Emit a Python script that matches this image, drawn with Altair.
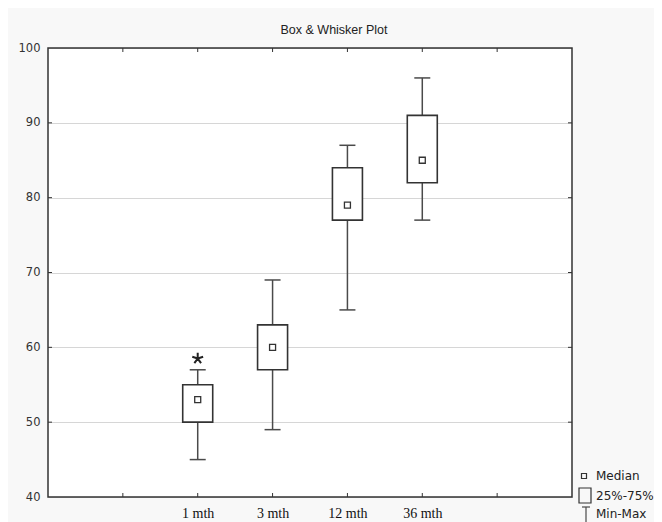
import altair as alt
import pandas as pd

# ---- data ----
categories = ["1 mth", "3 mth", "12 mth", "36 mth"]
positions = [2, 3, 4, 5]          # category slots on a 0..7 axis
mins = [45, 49, 65, 77]
q1s = [50, 57, 77, 82]
medians = [53, 60, 79, 85]
q3s = [55, 63, 84, 91]
maxs = [57, 69, 87, 96]
outlier_pos = [2]
outlier_vals = [58.5]
x_tick_vals = [1, 2, 3, 4, 5, 6]
y_tick_vals = [40, 50, 60, 70, 80, 90, 100]
y_inner_ticks = [50, 60, 70, 80, 90]
legend_labels = ["Median", "25%-75%", "Min-Max"]
title_text = "Box & Whisker Plot"

W, H = 524, 449
DARK = "#333333"
WHISK = "#4a4a4a"

df = pd.DataFrame({"cat": categories, "pos": positions, "min": mins, "q1": q1s,
                   "med": medians, "q3": q3s, "max": maxs})
out_df = pd.DataFrame({"pos": outlier_pos, "v": outlier_vals})
xt_df = pd.DataFrame({"pos": x_tick_vals})
yt_df = pd.DataFrame({"v": y_inner_ticks})
one = pd.DataFrame({"a": [0]})

xs = alt.Scale(domain=[0, 7], nice=False, zero=False)
ys = alt.Scale(domain=[40, 100], nice=False, zero=False)

label_expr = " : ".join(f"datum.value == {p} ? '{c}'" for p, c in zip(positions, categories)) + " : ''"

x_axis = alt.Axis(values=positions, labelExpr=label_expr, ticks=False, domain=False, grid=False,
                  title=None, labelFont="Liberation Serif", labelFontSize=14, labelColor="#111111",
                  labelPadding=9)
y_axis = alt.Axis(values=y_tick_vals, ticks=False, domain=False, grid=True, gridColor="#d6d6d6",
                  gridWidth=1, title=None, labelFont="DejaVu Sans", labelFontSize=11.5,
                  labelColor="#333333", labelPadding=8)

X = alt.X("pos:Q", scale=xs, axis=x_axis)

whisk = alt.Chart(df).mark_rule(color=WHISK, strokeWidth=1.5).encode(
    x=X, y=alt.Y("min:Q", scale=ys, axis=y_axis), y2="max:Q")
cap_lo = alt.Chart(df).mark_rule(color=WHISK, strokeWidth=1.5, xOffset=-8, x2Offset=8).encode(
    x=alt.X("pos:Q", scale=xs), x2="pos:Q", y=alt.Y("min:Q", scale=ys))
cap_hi = alt.Chart(df).mark_rule(color=WHISK, strokeWidth=1.5, xOffset=-8, x2Offset=8).encode(
    x=alt.X("pos:Q", scale=xs), x2="pos:Q", y=alt.Y("max:Q", scale=ys))
box = alt.Chart(df).mark_rect(fill="white", stroke=DARK, strokeWidth=1.6, xOffset=-15, x2Offset=15).encode(
    x=alt.X("pos:Q", scale=xs), x2="pos:Q", y=alt.Y("q1:Q", scale=ys), y2="q3:Q")
med = alt.Chart(df).mark_square(size=36, filled=False, stroke=DARK, strokeWidth=1.3, opacity=1).encode(
    x=alt.X("pos:Q", scale=xs), y=alt.Y("med:Q", scale=ys))

star_path = ("M0,0L0,-1M0,0L0.951,-0.309M0,0L0.588,0.809M0,0L-0.588,0.809M0,0L-0.951,-0.309")
outl = alt.Chart(out_df).mark_point(shape=star_path, size=130, filled=False, stroke="#222222",
                                    strokeWidth=2, opacity=1).encode(
    x=alt.X("pos:Q", scale=xs), y=alt.Y("v:Q", scale=ys))

# inward ticks on all four sides
tick_top = alt.Chart(xt_df).mark_rule(color=DARK, strokeWidth=1).encode(
    x=alt.X("pos:Q", scale=xs), y=alt.value(0), y2=alt.value(4))
tick_bot = alt.Chart(xt_df).mark_rule(color=DARK, strokeWidth=1).encode(
    x=alt.X("pos:Q", scale=xs), y=alt.value(H), y2=alt.value(H - 4))
tick_left = alt.Chart(yt_df).mark_rule(color=DARK, strokeWidth=1).encode(
    y=alt.Y("v:Q", scale=ys), x=alt.value(0), x2=alt.value(4))
tick_right = alt.Chart(yt_df).mark_rule(color=DARK, strokeWidth=1).encode(
    y=alt.Y("v:Q", scale=ys), x=alt.value(W), x2=alt.value(W - 4))

frame = alt.Chart(one).mark_rect(fill=None, stroke=DARK, strokeWidth=1.5).encode(
    x=alt.value(0), x2=alt.value(W), y=alt.value(0), y2=alt.value(H))

title = alt.Chart(one).mark_text(text=title_text, font="Liberation Sans", fontSize=12.5,
                                 color="#222222", baseline="middle", align="center").encode(
    x=alt.value(286), y=alt.value(-18))

# legend (drawn by hand, to the right of the plot)
lg_font = dict(font="DejaVu Sans", fontSize=12, color="#222222", baseline="middle", align="left")
lg_med = alt.Chart(one).mark_square(size=25, filled=False, stroke=DARK, strokeWidth=1.2, opacity=1).encode(
    x=alt.value(536), y=alt.value(428))
lg_med_t = alt.Chart(one).mark_text(text=legend_labels[0], **lg_font).encode(x=alt.value(548), y=alt.value(428))
lg_box = alt.Chart(one).mark_rect(fill=None, stroke=DARK, strokeWidth=1.2).encode(
    x=alt.value(531), x2=alt.value(543), y=alt.value(440), y2=alt.value(455))
lg_box_t = alt.Chart(one).mark_text(text=legend_labels[1], **lg_font).encode(x=alt.value(548), y=alt.value(448))
lg_t1 = alt.Chart(one).mark_rule(color=WHISK, strokeWidth=1.2).encode(
    x=alt.value(534), x2=alt.value(542), y=alt.value(459))
lg_t2 = alt.Chart(one).mark_rule(color=WHISK, strokeWidth=1.2).encode(
    x=alt.value(538), y=alt.value(459), y2=alt.value(476))
lg_mm_t = alt.Chart(one).mark_text(text=legend_labels[2], **lg_font).encode(x=alt.value(548), y=alt.value(466))

chart = alt.layer(
    whisk, cap_lo, cap_hi, box, med, outl,
    tick_top, tick_bot, tick_left, tick_right, frame, title,
    lg_med, lg_med_t, lg_box, lg_box_t, lg_t1, lg_t2, lg_mm_t,
).properties(
    width=W, height=H,
    autosize=alt.AutoSizeParams(type="none"),
    padding={"left": 40, "top": 40, "right": 82, "bottom": 25},
    background="#f8f8f8",
).configure_view(fill="white", stroke=None)

chart.save("out.html", embed_options={"renderer": "svg", "actions": False})
